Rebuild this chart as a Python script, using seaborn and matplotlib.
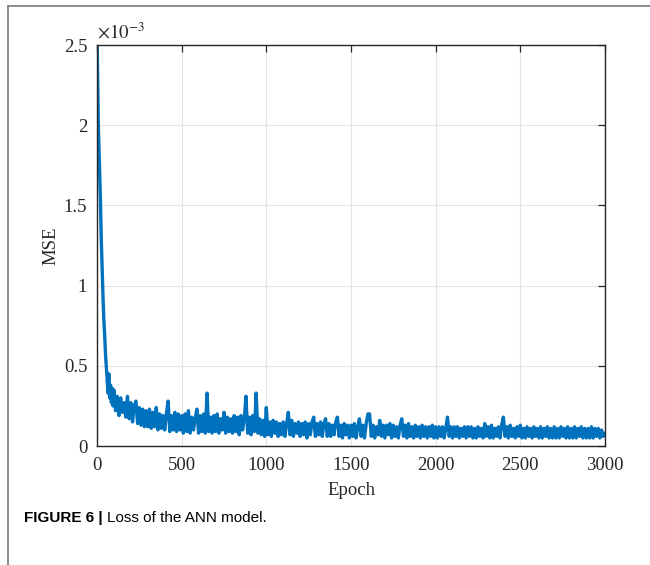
import numpy as np
import seaborn as sns
import matplotlib.pyplot as plt
from matplotlib.lines import Line2D

# MSE values in units of 1e-3
early_epochs = [0, 2, 5, 8, 12, 16, 20, 25, 30, 35, 40, 45, 50, 55, 60, 65, 70, 75, 80, 85, 90, 95]
early_mse = [2.6, 2.45, 2.2, 2.0, 1.85, 1.7, 1.55, 1.3, 1.12, 0.95, 0.8, 0.7, 0.58, 0.5,
             0.42, 0.33, 0.45, 0.30, 0.38, 0.27, 0.36, 0.25]

# epochs 100..3000 every 10
late_mse = [
    0.35, 0.22, 0.31, 0.19, 0.30, 0.21, 0.27, 0.18, 0.31, 0.17,
    0.27, 0.15, 0.25, 0.28, 0.14, 0.24, 0.13, 0.23, 0.12, 0.22,
    0.12, 0.23, 0.11, 0.21, 0.12, 0.24, 0.10, 0.20, 0.11, 0.19,
    0.10, 0.20, 0.28, 0.09, 0.19, 0.10, 0.21, 0.09, 0.20, 0.10,
    0.19, 0.08, 0.20, 0.09, 0.22, 0.08, 0.18, 0.10, 0.17, 0.23,
    0.08, 0.19, 0.09, 0.20, 0.08, 0.33, 0.09, 0.18, 0.08, 0.19,
    0.09, 0.20, 0.08, 0.17, 0.10, 0.21, 0.08, 0.18, 0.09, 0.17,
    0.08, 0.19, 0.09, 0.18, 0.07, 0.19, 0.10, 0.17, 0.31, 0.08,
    0.18, 0.07, 0.19, 0.09, 0.33, 0.08, 0.17, 0.07, 0.16, 0.06,
    0.24, 0.07, 0.15, 0.06, 0.16, 0.08, 0.15, 0.06, 0.14, 0.07,
    0.15, 0.06, 0.14, 0.21, 0.07, 0.16, 0.06, 0.14, 0.08, 0.15,
    0.06, 0.14, 0.07, 0.15, 0.05, 0.14, 0.07, 0.15, 0.18, 0.06,
    0.14, 0.07, 0.15, 0.06, 0.14, 0.17, 0.06, 0.14, 0.06, 0.13,
    0.07, 0.15, 0.18, 0.06, 0.13, 0.05, 0.14, 0.07, 0.13, 0.05,
    0.13, 0.06, 0.14, 0.05, 0.12, 0.17, 0.06, 0.13, 0.05, 0.14,
    0.20, 0.20, 0.06, 0.13, 0.05, 0.12, 0.07, 0.16, 0.06, 0.13,
    0.05, 0.13, 0.07, 0.14, 0.05, 0.13, 0.06, 0.12, 0.05, 0.13,
    0.17, 0.06, 0.13, 0.05, 0.14, 0.06, 0.12, 0.05, 0.13, 0.06,
    0.12, 0.05, 0.13, 0.06, 0.12, 0.05, 0.12, 0.06, 0.13, 0.05,
    0.12, 0.05, 0.12, 0.06, 0.12, 0.05, 0.11, 0.18, 0.06, 0.12,
    0.05, 0.12, 0.06, 0.12, 0.05, 0.11, 0.06, 0.12, 0.05, 0.12,
    0.06, 0.12, 0.05, 0.11, 0.05, 0.12, 0.06, 0.11, 0.05, 0.14,
    0.06, 0.12, 0.05, 0.13, 0.05, 0.11, 0.06, 0.12, 0.05, 0.13,
    0.18, 0.06, 0.12, 0.05, 0.13, 0.06, 0.11, 0.05, 0.12, 0.06,
    0.13, 0.05, 0.11, 0.05, 0.12, 0.06, 0.11, 0.05, 0.12, 0.06,
    0.11, 0.05, 0.12, 0.05, 0.11, 0.06, 0.12, 0.05, 0.11, 0.05,
    0.12, 0.05, 0.11, 0.05, 0.12, 0.06, 0.11, 0.05, 0.12, 0.05,
    0.11, 0.05, 0.12, 0.05, 0.11, 0.06, 0.12, 0.05, 0.11, 0.05,
    0.11, 0.05, 0.12, 0.05, 0.11, 0.06, 0.11, 0.05, 0.10, 0.06,
    0.08,
]
late_epochs = list(range(100, 3001, 10))

epochs = early_epochs + late_epochs
mse = early_mse + late_mse

x_ticks = [0, 500, 1000, 1500, 2000, 2500, 3000]
y_ticks = [0, 0.5, 1, 1.5, 2, 2.5]
y_tick_labels = ['0', '0.5', '1', '1.5', '2', '2.5']

sns.set_theme(style='white')
plt.rcParams['font.family'] = ['Liberation Serif', 'DejaVu Serif']
plt.rcParams['mathtext.fontset'] = 'stix'

fig = plt.figure(figsize=(6.5, 5.65), dpi=100)
ax = fig.add_axes([0.1492, 0.2106, 0.7815, 0.7097])

sns.lineplot(x=epochs, y=mse, ax=ax, color='#0072BD', linewidth=2.4)

ax.set_xlim(0, 3000)
ax.set_ylim(0, 2.5)
ax.set_xticks(x_ticks)
ax.set_yticks(y_ticks)
ax.set_yticklabels(y_tick_labels)
ax.grid(True, color='#e3e3e3', linewidth=0.8)
ax.tick_params(direction='in', length=5, width=0.9, top=True, right=True,
               labelsize=13.5, colors='#262626', pad=7)
ax.tick_params(axis='x', pad=8)
for sp in ax.spines.values():
    sp.set_color('#262626')
    sp.set_linewidth(1.0)

ax.set_xlabel('Epoch', fontsize=13.5, color='#262626', labelpad=6)
ax.set_ylabel('MSE', fontsize=13.5, color='#262626', labelpad=3)
ax.text(0.0, 1.006, r'$\times 10^{\mathrm{-3}}$', transform=ax.transAxes, fontsize=13.5,
        color='#262626', ha='left', va='bottom')

# outer frame
fig.add_artist(Line2D([8 / 650, 1], [1 - 6 / 565, 1 - 6 / 565], color='#777777', linewidth=1.2))
fig.add_artist(Line2D([8 / 650, 8 / 650], [0, 1 - 6 / 565], color='#777777', linewidth=1.2))

# caption
cap_y = 1 - 518 / 565
t1 = fig.text(24 / 650, cap_y, 'FIGURE 6 |', fontsize=11, fontweight='bold', color='black',
              family=['Liberation Sans Narrow', 'Liberation Sans'], va='center', ha='left')
fig.canvas.draw()
bb = t1.get_window_extent(renderer=fig.canvas.get_renderer())
fig.text(bb.x1 / fig.bbox.width + 4 / 650, cap_y, 'Loss of the ANN model.', fontsize=11,
         color='black', family=['Liberation Sans Narrow', 'Liberation Sans'],
         va='center', ha='left')

fig.savefig('out.png', dpi=100)
